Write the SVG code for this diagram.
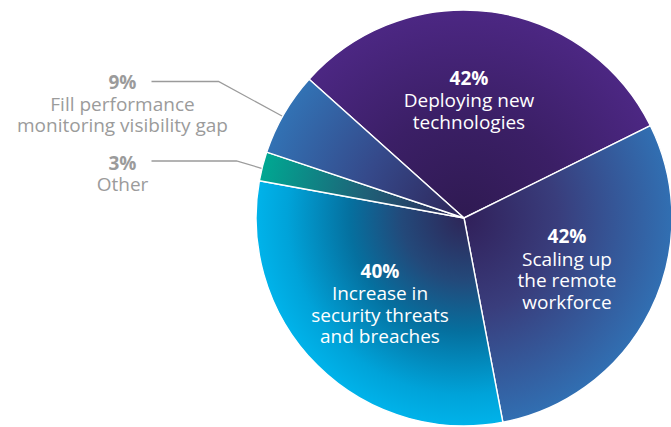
<svg xmlns="http://www.w3.org/2000/svg" width="671" height="427" viewBox="0 0 671 427">
<style>
.slice{stroke:#ffffff;stroke-width:1.4;stroke-linejoin:round}
.lbl{font-family:"Open Sans","Noto Sans","Liberation Sans",sans-serif;font-size:19px;text-anchor:middle;fill:#ffffff}
.glbl{font-family:"Open Sans","Noto Sans","Liberation Sans",sans-serif;font-size:19px;text-anchor:middle;fill:#9b9b9b}
.pct{font-weight:bold}
.leader{fill:none;stroke:#9b9b9b;stroke-width:1.3}
</style>
<defs>
<radialGradient id="gPurple" gradientUnits="userSpaceOnUse" cx="464" cy="218" r="208">
<stop offset="0" stop-color="#2f1a52"/>
<stop offset="0.5" stop-color="#3b1f66"/>
<stop offset="1" stop-color="#4c2783"/>
</radialGradient>
<radialGradient id="gRemote" gradientUnits="userSpaceOnUse" cx="464" cy="218" r="208">
<stop offset="0" stop-color="#31205a"/>
<stop offset="0.45" stop-color="#393d7c"/>
<stop offset="1" stop-color="#316fb2"/>
</radialGradient>
<radialGradient id="gSec" gradientUnits="userSpaceOnUse" cx="464" cy="218" r="208">
<stop offset="0" stop-color="#2e2658"/>
<stop offset="0.3" stop-color="#23497a"/>
<stop offset="0.55" stop-color="#05709f"/>
<stop offset="0.85" stop-color="#00a3d9"/>
<stop offset="1" stop-color="#00b3ea"/>
</radialGradient>
<radialGradient id="gOther" gradientUnits="userSpaceOnUse" cx="464" cy="218" r="208">
<stop offset="0" stop-color="#2e2558"/>
<stop offset="0.5" stop-color="#1e6278"/>
<stop offset="1" stop-color="#00a892"/>
</radialGradient>
<radialGradient id="gFill" gradientUnits="userSpaceOnUse" cx="464" cy="218" r="208">
<stop offset="0" stop-color="#2e2558"/>
<stop offset="0.5" stop-color="#35498a"/>
<stop offset="1" stop-color="#3272b4"/>
</radialGradient>
</defs>

<g id="slice-deploying">
<path class="slice" fill="url(#gPurple)" d="M464,218 L309.1,79.2 A208,208 0 0 1 650.4,125.7 Z"/>
<text class="lbl pct" x="469" y="85">42%</text>
<text class="lbl" x="469" y="107">Deploying new</text>
<text class="lbl" x="469" y="129">technologies</text>
</g>

<g id="slice-remote">
<path class="slice" fill="url(#gRemote)" d="M464,218 L650.4,125.7 A208,208 0 0 1 502.9,422.3 Z"/>
<text class="lbl pct" x="567" y="243">42%</text>
<text class="lbl" x="567" y="265.5">Scaling up</text>
<text class="lbl" x="567" y="287">the remote</text>
<text class="lbl" x="567" y="308.5">workforce</text>
</g>

<g id="slice-security">
<path class="slice" fill="url(#gSec)" d="M464,218 L502.9,422.3 A208,208 0 0 1 259.4,180.7 Z"/>
<text class="lbl pct" x="380" y="277.5">40%</text>
<text class="lbl" x="380" y="299.5">Increase in</text>
<text class="lbl" x="380" y="321.5">security threats</text>
<text class="lbl" x="380" y="343">and breaches</text>
</g>

<g id="slice-other">
<path class="slice" fill="url(#gOther)" d="M464,218 L259.4,180.7 A208,208 0 0 1 266.7,152.1 Z"/>
<text class="glbl pct" x="122.5" y="169.5">3%</text>
<text class="glbl" x="122.5" y="190.5">Other</text>
</g>

<g id="slice-fill">
<path class="slice" fill="url(#gFill)" d="M464,218 L266.7,152.1 A208,208 0 0 1 309.1,79.2 Z"/>
<text class="glbl pct" x="122.5" y="88.5">9%</text>
<text class="glbl" x="122.5" y="110.5">Fill performance</text>
<text class="glbl" x="122.5" y="132">monitoring visibility gap</text>
</g>

<g id="connectors">
<path class="leader" d="M151.5,81.5 H218.5 L282,116"/>
<path class="leader" d="M151.5,161 H236.5 L261.5,168.3"/>
</g>
</svg>
